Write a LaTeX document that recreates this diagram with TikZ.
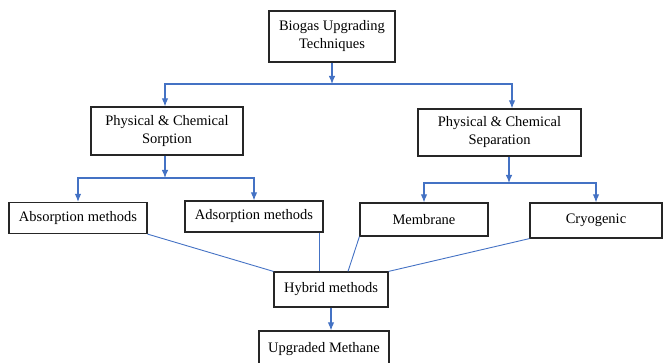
\documentclass[tikz,border=0pt]{standalone}
\usepackage{fontspec}
\setmainfont{Liberation Serif}
\usetikzlibrary{arrows.meta}

\definecolor{linkblue}{HTML}{4472C4}

\begin{document}
\begin{tikzpicture}
  [x=1pt,y=-1pt,font=\fontsize{14.5}{18}\selectfont,
   every node/.style={draw=black!85,line width=1.2pt,inner sep=0pt,align=center},
   link/.style={draw=linkblue,line width=0.9pt},
   feed/.style={link,line width=1.1pt,-{Latex[length=8pt,width=6.5pt]}}]
  \useasboundingbox (0,0) rectangle (663,363);
  \node[minimum width=126pt,minimum height=51pt] (bt) at (332,36.5) {Biogas Upgrading\\Techniques};
  \node[minimum width=152pt,minimum height=48pt] (sorp) at (167,131) {Physical \& Chemical\\Sorption};
  \node[minimum width=163pt,minimum height=47pt] (sepa) at (499.5,132.5) {Physical \& Chemical\\Separation};
  \node[minimum width=138pt,minimum height=31pt] (abso) at (78,218) {Absorption methods};
  \node[minimum width=138pt,minimum height=31pt] (adso) at (254,216.5) {Adsorption methods};
  \node[minimum width=128pt,minimum height=33pt] (memb) at (424,219.5) {Membrane};
  \node[minimum width=132pt,minimum height=35pt] (cryo) at (596,220.5) {Cryogenic};
  \node[minimum width=114pt,minimum height=35pt] (hybr) at (331,289.5) {Hybrid methods};
  \node[minimum width=130pt,minimum height=36pt] (meth) at (324,349) {Upgraded Methane};
  \coordinate (j1) at (332,84);
  \coordinate (j2) at (165,178);
  \coordinate (j3) at (509,183);
  \coordinate (hm) at ([xshift=17pt]hybr.north);
  \coordinate (ha) at ([xshift=-4pt]adso.south east);

  % splits
  \draw[feed] (bt.south) -- (j1);
  \draw[feed] (j1) -| ([xshift=-2pt]sorp.north);
  \draw[feed] (j1) -| ([xshift=12.5pt]sepa.north);
  \draw[feed] ([xshift=-2pt]sorp.south) -- (j2);
  \draw[feed] (j2) -| (abso.north);
  \draw[feed] (j2) -| (adso.north);
  \draw[feed] ([xshift=9.5pt]sepa.south) -- (j3);
  \draw[feed] (j3) -| (memb.north);
  \draw[feed] (j3) -| (cryo.north);

  % into hybrid
  \foreach \from/\to in {abso.south east/hybr.north west,memb.south west/hm,cryo.south west/hybr.north east}
    \draw[link] (\from) -- (\to);
  \draw[link] (ha) -- (ha |- hybr.north);
  \draw[feed] (hybr.south) -- (hybr.south |- meth.north);
\end{tikzpicture}
\end{document}
